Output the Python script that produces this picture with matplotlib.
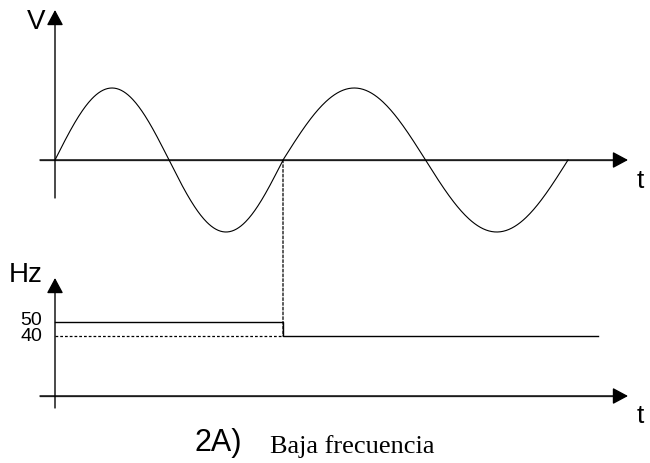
import numpy as np
import matplotlib
matplotlib.use("Agg")
import matplotlib.pyplot as plt
from matplotlib.patches import ConnectionPatch

# ---- data ----
freqs_hz = [50, 40]            # frequency of each segment
periods_per_segment = [1, 1]   # number of full cycles at each frequency
freq_line_end_ms = 47.6        # where the 40 Hz line stops
freq_tick_labels = ["50", "40"]
caption_left = "2A)"
caption_right = "Baja frecuencia"

W, H, DPI = 650, 463, 100
fig = plt.figure(figsize=(W / DPI, H / DPI), dpi=DPI)

PX_PER_MS = 11.4
X0_PX = 55
xlim = (-X0_PX / PX_PER_MS, (W - X0_PX) / PX_PER_MS)

AX_COL = "#5a5a5a"
LW_AX = 1.0
SANS = ["Liberation Sans", "DejaVu Sans"]
SERIF = ["Liberation Serif", "DejaVu Serif"]

def arrow(ax, start, tip):
    ax.annotate("", xy=tip, xytext=start,
                arrowprops=dict(arrowstyle="-|>,head_length=0.67,head_width=0.36",
                                mutation_scale=14, lw=LW_AX, color=AX_COL,
                                fc="black", ec="black", shrinkA=0, shrinkB=0),
                annotation_clip=False)

# ---- top panel: voltage ----
top_px = (0, 250)
ax1 = fig.add_axes([0, 1 - top_px[1] / H, 1, (top_px[1] - top_px[0]) / H])
AMP_PX = 72
ZERO_PX = 160
ax1.set_xlim(*xlim)
ax1.set_ylim(-(top_px[1] - ZERO_PX) / AMP_PX, ZERO_PX / AMP_PX)
ax1.axis("off")

t_all, v_all = [], []
t_start, phase = 0.0, 0.0
for f, n in zip(freqs_hz, periods_per_segment):
    T = 1000.0 / f * n
    t = np.linspace(t_start, t_start + T, 300)
    v = np.sin(phase + 2 * np.pi * f * (t - t_start) / 1000.0)
    t_all.append(t); v_all.append(v)
    t_start += T
    phase += 2 * np.pi * n
t_all = np.concatenate(t_all); v_all = np.concatenate(v_all)
switch_ms = 1000.0 / freqs_hz[0] * periods_per_segment[0]

t_ax_left = (40 - X0_PX) / PX_PER_MS
t_ax_tip = (628 - X0_PX) / PX_PER_MS

ax1.plot([t_ax_left, t_ax_tip - 1.0], [0, 0], color=AX_COL, lw=LW_AX)
arrow(ax1, (t_ax_left, 0), (t_ax_tip, 0))
arrow(ax1, (0, (ZERO_PX - 198) / AMP_PX), (0, (ZERO_PX - 10) / AMP_PX))
ax1.plot(t_all, v_all, color="black", lw=0.8)
ax1.text((45 - X0_PX) / PX_PER_MS, (ZERO_PX - 22) / AMP_PX, "V",
         fontsize=20, family=SANS, ha="right", va="center")
ax1.text((637 - X0_PX) / PX_PER_MS, (ZERO_PX - 181) / AMP_PX, "t",
         fontsize=19, family=SANS, ha="left", va="center")

# ---- bottom panel: frequency ----
bot_px = (250, 463)
ax2 = fig.add_axes([0, 1 - bot_px[1] / H, 1, (bot_px[1] - bot_px[0]) / H])
PX_PER_HZ = 1.4
REF_HZ, REF_PX = 50, 322
def hz(px):
    return REF_HZ - (px - REF_PX) / PX_PER_HZ
ax2.set_xlim(*xlim)
ax2.set_ylim(hz(bot_px[1]), hz(bot_px[0]))
ax2.axis("off")

base = hz(396)
ax2.plot([t_ax_left, t_ax_tip - 1.0], [base, base], color=AX_COL, lw=LW_AX)
arrow(ax2, (t_ax_left, base), (t_ax_tip, base))
arrow(ax2, (0, hz(408)), (0, hz(278)))

ax2.plot([0, switch_ms, switch_ms, freq_line_end_ms],
         [freqs_hz[0], freqs_hz[0], freqs_hz[1], freqs_hz[1]],
         color="black", lw=1.0)
ax2.plot([0, switch_ms], [freqs_hz[1], freqs_hz[1]], color="black", lw=0.9,
         linestyle=(0, (2.2, 1.6)))

label_baseline_px = [325, 341]
for lab, py in zip(freq_tick_labels, label_baseline_px):
    ax2.text((42 - X0_PX) / PX_PER_MS, hz(py), lab, fontsize=14,
             family=SANS, ha="right", va="baseline")
ax2.text((9 - X0_PX) / PX_PER_MS, hz(275), "Hz", fontsize=20,
         family=SANS, ha="left", va="center")
ax2.text((637 - X0_PX) / PX_PER_MS, hz(416), "t", fontsize=19,
         family=SANS, ha="left", va="center")

cp = ConnectionPatch(xyA=(switch_ms, 0), coordsA=ax1.transData,
                     xyB=(switch_ms, freqs_hz[1]), coordsB=ax2.transData,
                     color="black", lw=0.9, linestyle=(0, (2.2, 1.6)))
fig.add_artist(cp)

# caption
fig.text(195 / W, 1 - 443 / H, caption_left, fontsize=22,
         family=SANS, ha="left", va="center")
fig.text(270 / W, 1 - 453 / H, caption_right, fontsize=19,
         family=SERIF, ha="left", va="baseline")

fig.savefig("out.png", dpi=DPI)
